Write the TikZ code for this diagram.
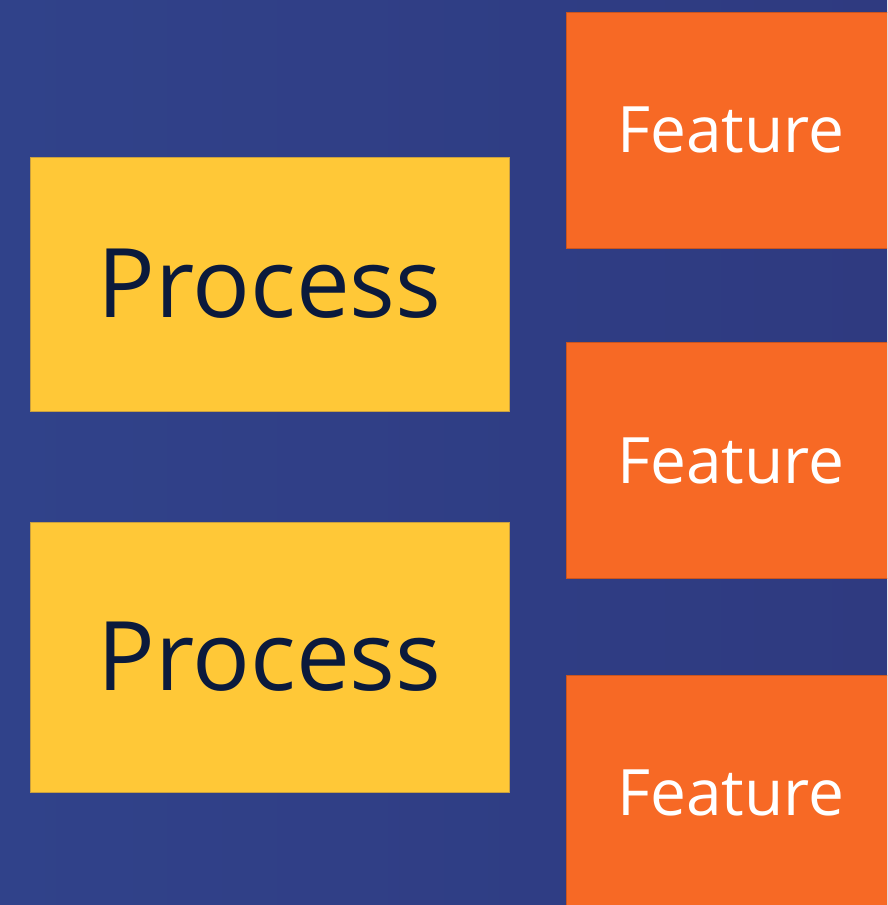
\documentclass[tikz,border=0pt]{standalone}
\usepackage{fontspec}
\setmainfont{Open Sans}
\usepackage{tikz}
\usetikzlibrary{positioning}

\definecolor{bgleft}{HTML}{30428A}
\definecolor{bgright}{HTML}{2F3A80}
\definecolor{procfill}{HTML}{FFC837}
\definecolor{procline}{HTML}{C9A040}
\definecolor{featfill}{HTML}{F76925}
\definecolor{featline}{HTML}{C9551F}
\definecolor{proctext}{HTML}{0B1A3C}

\begin{document}
\begin{tikzpicture}[
    x=1pt, y=-1pt,
    proc/.style={draw=procline, fill=procfill, line width=1pt, rectangle, minimum width=479pt, minimum height=254pt, inner sep=0pt, text=proctext, font=\fontsize{96}{108}\selectfont},
    feat/.style={draw=featline, fill=featfill, line width=1pt, rectangle, minimum width=330pt, minimum height=236pt, inner sep=0pt, text=white, font=\fontsize{64}{74}\selectfont}
]

\useasboundingbox (0,0) rectangle (887,905);
\clip (0,0) rectangle (887,905);

% Background
\shade[left color=bgleft, right color=bgright] (0,0) rectangle (887,905);

% Processes
\node[proc] (proc1) at (269.5,284) {Process};
\node[proc, minimum height=270pt] (proc2) at (269.5,657) {Process};

% Features
\node[feat] (feat1) at (731,130) {Feature};
\node[feat] (feat2) at (731,460.5) {Feature};
\node[feat] (feat3) at (731,793) {Feature};

\end{tikzpicture}
\end{document}
